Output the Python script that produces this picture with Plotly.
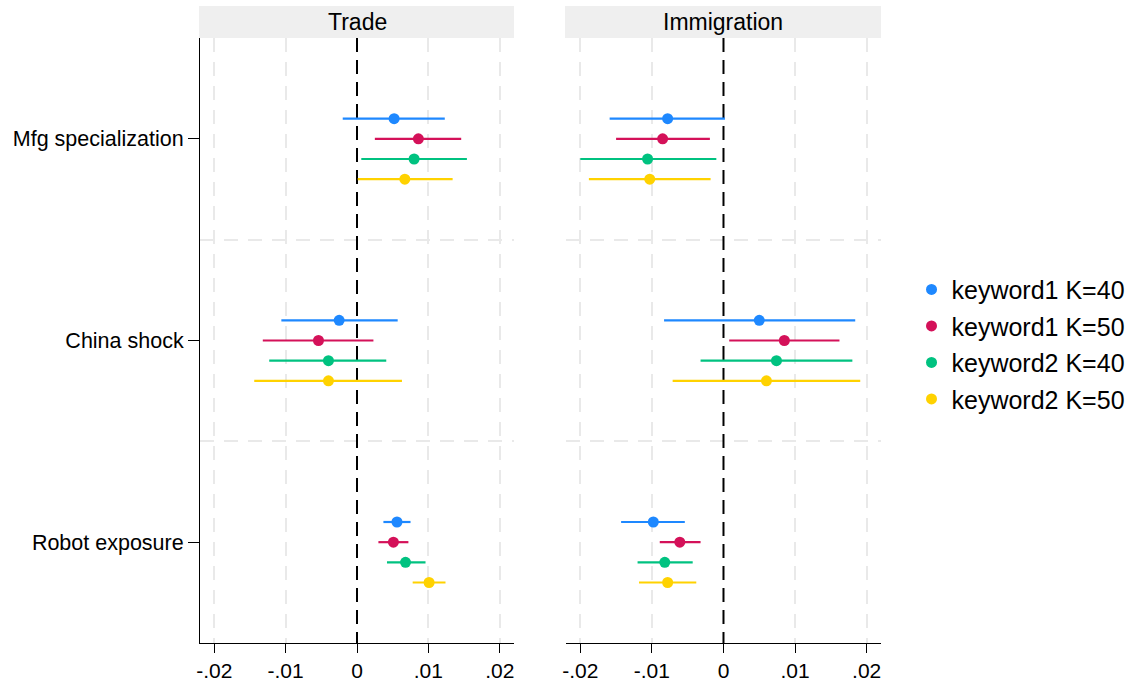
import plotly.graph_objects as go

# Outcome panels and the exposure measures on the vertical axis
panels = ["Trade", "Immigration"]
measures = ["Mfg specialization", "China shock", "Robot exposure"]
series = ["keyword1 K=40", "keyword1 K=50", "keyword2 K=40", "keyword2 K=50"]
colors = ["#1E88FF", "#D41159", "#00C280", "#FFD200"]
offsets = [-0.1, 0.0, 0.1, 0.2]

# Point estimates [series][measure] for each panel
trade_est = [
    [0.0052, -0.0025, 0.0056],
    [0.0086, -0.0054, 0.0051],
    [0.0080, -0.0040, 0.0068],
    [0.0067, -0.0040, 0.0101],
]
trade_lo = [
    [-0.0020, -0.0106, 0.0037],
    [0.0025, -0.0132, 0.0030],
    [0.0006, -0.0123, 0.0042],
    [0.0001, -0.0144, 0.0078],
]
trade_hi = [
    [0.0123, 0.0057, 0.0075],
    [0.0146, 0.0023, 0.0072],
    [0.0154, 0.0041, 0.0096],
    [0.0134, 0.0063, 0.0124],
]
immig_est = [
    [-0.0078, 0.0050, -0.0098],
    [-0.0085, 0.0085, -0.0061],
    [-0.0106, 0.0074, -0.0082],
    [-0.0103, 0.0060, -0.0078],
]
immig_lo = [
    [-0.0159, -0.0083, -0.0143],
    [-0.0150, 0.0008, -0.0089],
    [-0.0200, -0.0032, -0.0120],
    [-0.0188, -0.0071, -0.0118],
]
immig_hi = [
    [0.0002, 0.0184, -0.0054],
    [-0.0019, 0.0162, -0.0032],
    [-0.0010, 0.0180, -0.0043],
    [-0.0018, 0.0191, -0.0038],
]

x_ticks = [-0.02, -0.01, 0, 0.01, 0.02]
x_tick_text = ["-.02", "-.01", "0", ".01", ".02"]
x_vals = [t for t, lab in zip(x_ticks, x_tick_text) if lab != "0"]

FONT = "Liberation Sans, Arial, Helvetica, sans-serif"
GRID = "#E9E9E9"

fig = go.Figure()

panel_data = [
    ("x", "y", trade_est, trade_lo, trade_hi, True),
    ("x2", "y2", immig_est, immig_lo, immig_hi, False),
]
for xa, ya, est, lo, hi, show in panel_data:
    # Dashed reference line at zero
    fig.add_trace(go.Scatter(
        x=[0, 0], y=[0.5, 3.5], xaxis=xa, yaxis=ya, mode="lines",
        line=dict(color="black", width=2, dash="14px,8px"),
        showlegend=False, hoverinfo="skip",
    ))
    for s, name in enumerate(series):
        ypos = [m + 1 + offsets[s] for m in range(len(measures))]
        fig.add_trace(go.Scatter(
            x=est[s], y=ypos, xaxis=xa, yaxis=ya,
            mode="markers", name=name, legendgroup=name, showlegend=show,
            marker=dict(color=colors[s], size=11),
            error_x=dict(type="data", symmetric=False,
                         array=[h - e for h, e in zip(hi[s], est[s])],
                         arrayminus=[e - l for e, l in zip(est[s], lo[s])],
                         color=colors[s], thickness=2.2, width=0),
        ))

x_common = dict(
    range=[-0.022, 0.022], tickvals=x_ticks, ticktext=x_tick_text,
    showgrid=False, zeroline=False, showline=True, linecolor="black",
    linewidth=1, ticks="outside", ticklen=9, tickcolor="black",
    automargin=False,
    minor=dict(tickvals=x_vals, showgrid=True, gridcolor=GRID,
               gridwidth=2, griddash="14px,10px", ticks=""),
    tickfont=dict(family=FONT, size=21, color="black"),
)
y_common = dict(
    range=[3.5, 0.5], tickvals=[1, 2, 3], ticktext=measures,
    showgrid=False, zeroline=False, automargin=False,
    minor=dict(tickvals=[1.5, 2.5], showgrid=True, gridcolor=GRID,
               gridwidth=2, griddash="14px,10px", ticks=""),
)

fig.update_layout(
    width=1138, height=683,
    margin=dict(l=200, r=257, t=38, b=40, autoexpand=False),
    plot_bgcolor="white", paper_bgcolor="white",
    xaxis=dict(domain=[0, 0.4611], **x_common),
    xaxis2=dict(domain=[0.5374, 1], **x_common),
    yaxis=dict(anchor="x", showline=True, linecolor="black", linewidth=1,
               ticks="outside", ticklen=11, tickcolor="black",
               tickfont=dict(family=FONT, size=21.5, color="black"), **y_common),
    yaxis2=dict(anchor="x2", showline=False, showticklabels=False,
                ticks="", **y_common),
    legend=dict(x=1.0448, y=0.494, xanchor="left", yanchor="middle",
                font=dict(family=FONT, size=25, color="black"),
                itemwidth=30, traceorder="grouped", tracegroupgap=1,
                bgcolor="rgba(0,0,0,0)"),
    font=dict(family=FONT),
)

# Panel strips with titles
strip_top = 1 + 32 / 605
for (d0, d1), title in zip([(0, 0.4611), (0.5374, 1)], panels):
    fig.add_shape(type="rect", xref="paper", yref="paper",
                  x0=d0 - 0.0015, x1=d1, y0=1.0, y1=strip_top,
                  fillcolor="#EFEFEF", line=dict(width=0))
    fig.add_annotation(xref="paper", yref="paper", x=(d0 + d1) / 2,
                       y=(1 + strip_top) / 2, text=title, showarrow=False,
                       xanchor="center", yanchor="middle",
                       font=dict(family=FONT, size=23, color="black"))

fig.write_html("out.html")
